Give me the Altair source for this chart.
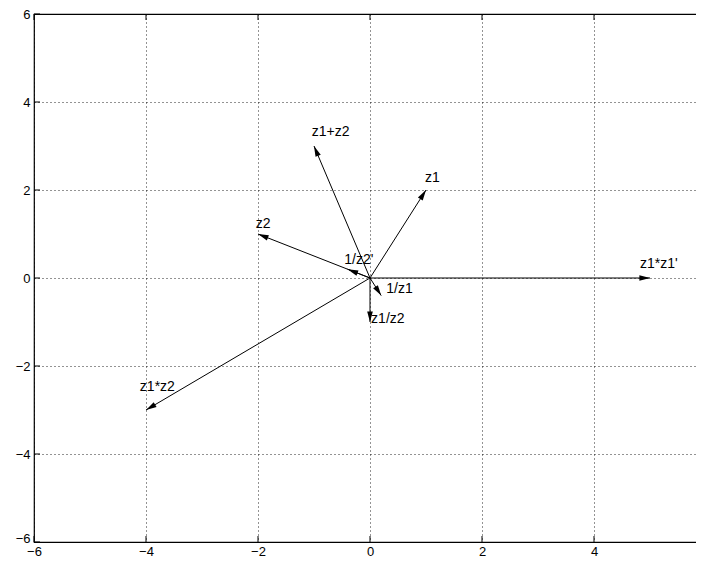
import math
import altair as alt
import pandas as pd

# ---- data -------------------------------------------------------------
names = ["z1", "z2", "z1+z2", "z1*z2", "z1*z1'", "1/z1", "z1/z2", "1/z2'"]
re_vals = [1.0, -2.0, -1.0, -4.0, 5.0, 0.2, 0.0, -0.4]
im_vals = [2.0, 1.0, 3.0, -3.0, 0.0, -0.4, -1.0, 0.2]
# label anchor (data units)
label_x = [0.98, -2.04, -1.04, -4.11, 4.82, 0.29, 0.02, -0.46]
label_y = [2.28, 1.22, 3.32, -2.47, 0.32, -0.25, -0.93, 0.41]
tick_vals = [-6, -4, -2, 0, 2, 4, 6]

W, H = 672, 528
SX, SY = W / 12.0, H / 12.0
FONT = "Liberation Sans"

angles = []
for xv, yv in zip(re_vals, im_vals):
    a = math.degrees(math.atan2(xv * SX, yv * SY)) % 360
    angles.append(a)

vec = pd.DataFrame({"name": names, "x": re_vals, "y": im_vals,
                    "x0": [0.0] * len(names), "y0": [0.0] * len(names),
                    "angle": angles, "lx": label_x, "ly": label_y})
ticks = pd.DataFrame({"t": tick_vals})

xs = alt.Scale(domain=[-6, 6], nice=False, zero=False)
ys = alt.Scale(domain=[-6, 6], nice=False, zero=False)

xaxis = alt.Axis(values=tick_vals, format="d", grid=True, gridDash=[1, 3],
                 gridColor="#000", gridOpacity=0.85, domain=False, ticks=False,
                 labelPadding=3, labelFont=FONT, labelFontSize=13,
                 labelColor="#000", title=None, labelFlush=False,
                 labelOverlap=False)
yaxis = alt.Axis(values=tick_vals, format="d", grid=True, gridDash=[1, 3],
                 gridColor="#000", gridOpacity=0.85, domain=False, ticks=False,
                 labelPadding=4, labelFont=FONT, labelFontSize=13,
                 labelColor="#000", title=None, labelFlush=False,
                 labelOverlap=False,
                 labelOffset={"condition": {"test": "datum.value == -6",
                                            "value": -4}, "value": 0})

base = alt.Chart(vec)

grid = base.mark_point(opacity=0).encode(
    x=alt.X("x:Q", scale=xs, axis=xaxis),
    y=alt.Y("y:Q", scale=ys, axis=yaxis),
)

lines = base.mark_rule(color="#000", strokeWidth=1).encode(
    x=alt.X("x0:Q", scale=xs), y=alt.Y("y0:Q", scale=ys),
    x2="x:Q", y2="y:Q",
)

heads = base.mark_point(filled=True, color="#000", opacity=1,
                        shape="M0,0 L-0.8,3 L0.8,3 Z", size=50,
                        strokeWidth=0).encode(
    x=alt.X("x:Q", scale=xs), y=alt.Y("y:Q", scale=ys),
    angle=alt.Angle("angle:Q", scale=None),
)

labels = base.mark_text(align="left", baseline="middle", font=FONT,
                        fontSize=14, color="#000").encode(
    x=alt.X("lx:Q", scale=xs), y=alt.Y("ly:Q", scale=ys), text="name:N",
)

tb = alt.Chart(ticks)
tick_bottom = tb.mark_rule(color="#000").encode(
    x=alt.X("t:Q", scale=xs), y=alt.value(H), y2=alt.value(H - 6))
tick_top = tb.mark_rule(color="#000").encode(
    x=alt.X("t:Q", scale=xs), y=alt.value(0), y2=alt.value(6))
tick_left = tb.mark_rule(color="#000").encode(
    y=alt.Y("t:Q", scale=ys), x=alt.value(0), x2=alt.value(6))
tick_right = tb.mark_rule(color="#000").encode(
    y=alt.Y("t:Q", scale=ys), x=alt.value(W), x2=alt.value(W - 6))

chart = alt.layer(grid, tick_bottom, tick_top, tick_left, tick_right,
                  lines, heads, labels).properties(
    width=W, height=H,
    autosize=alt.AutoSizeParams(type="none"),
    padding={"left": 26, "top": 6, "right": -10, "bottom": 16},
    background="white",
).configure_view(stroke="#000", strokeWidth=1.2)

chart.save("out.html", embed_options={"renderer": "svg", "actions": False})
